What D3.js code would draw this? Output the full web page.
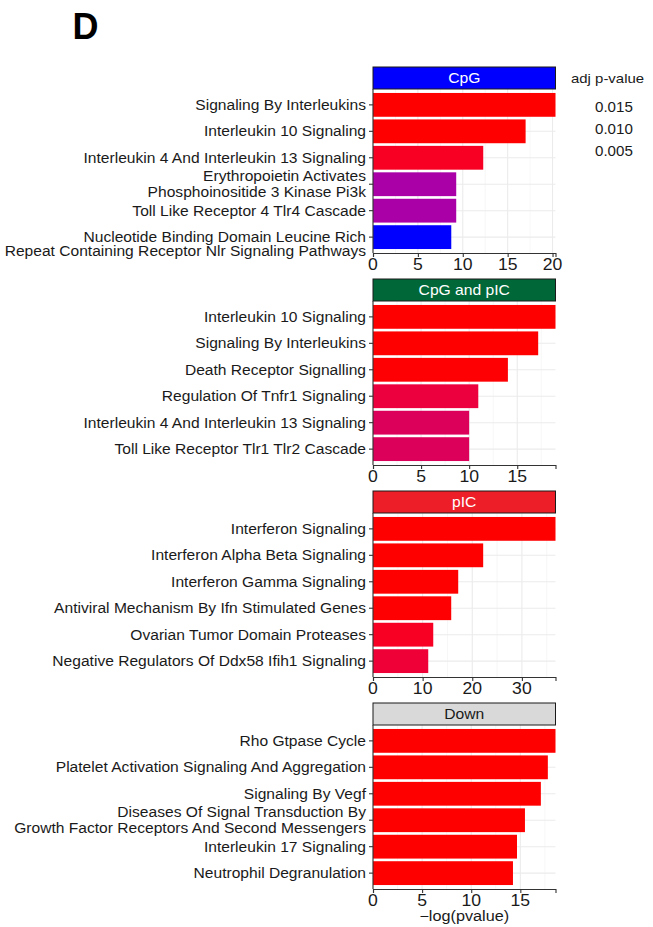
<!DOCTYPE html>
<html><head><meta charset="utf-8">
<script src="https://cdn.jsdelivr.net/npm/d3@7"></script>
<style>body{margin:0;background:#fff}svg{display:block}text{font-family:"Liberation Sans",Arial,sans-serif}</style>
</head><body><svg id="c" width="653" height="927"></svg>
<script>
// ---- data ----
const panelTitles = ["CpG", "CpG and pIC", "pIC", "Down"];
const stripFills = ["#0000FF", "#006838", "#ED1E28", "#D9D9D9"];
const stripTextColors = ["#FFFFFF", "#FFFFFF", "#FFFFFF", "#1A1A1A"];

const cpgTerms = ["Signaling By Interleukins", "Interleukin 10 Signaling", "Interleukin 4 And Interleukin 13 Signaling",
  "Erythropoietin Activates\nPhosphoinositide 3 Kinase Pi3k", "Toll Like Receptor 4 Tlr4 Cascade",
  "Nucleotide Binding Domain Leucine Rich\nRepeat Containing Receptor Nlr Signaling Pathways"];
const cpgValues = [20.33, 17.0, 12.28, 9.27, 9.27, 8.72];
const cpgAdjP = [0.00001, 0.00002, 0.0013, 0.0106, 0.0106, 0.0166];

const bothTerms = ["Interleukin 10 Signaling", "Signaling By Interleukins", "Death Receptor Signalling",
  "Regulation Of Tnfr1 Signaling", "Interleukin 4 And Interleukin 13 Signaling", "Toll Like Receptor Tlr1 Tlr2 Cascade"];
const bothValues = [18.98, 17.18, 14.03, 10.95, 10.0, 10.0];
const bothAdjP = [0.00001, 0.00002, 0.0001, 0.0029, 0.0050, 0.0050];

const picTerms = ["Interferon Signaling", "Interferon Alpha Beta Signaling", "Interferon Gamma Signaling",
  "Antiviral Mechanism By Ifn Stimulated Genes", "Ovarian Tumor Domain Proteases", "Negative Regulators Of Ddx58 Ifih1 Signaling"];
const picValues = [36.77, 22.2, 17.17, 15.76, 12.14, 11.13];
const picAdjP = [0.00001, 0.00001, 0.00002, 0.00005, 0.0013, 0.0024];

const downTerms = ["Rho Gtpase Cycle", "Platelet Activation Signaling And Aggregation", "Signaling By Vegf",
  "Diseases Of Signal Transduction By\nGrowth Factor Receptors And Second Messengers", "Interleukin 17 Signaling", "Neutrophil Degranulation"];
const downValues = [18.58, 17.8, 17.09, 15.47, 14.66, 14.25];
const downAdjP = [0.00001, 0.00001, 0.00001, 0.00001, 0.00001, 0.00001];

const legendTitle = "adj p-value";
const legendBreaks = [0.015, 0.010, 0.005];
const xTitle = "\u2212log(pvalue)";
const panelLetter = "D";

const panels = [
  {terms: cpgTerms, values: cpgValues, p: cpgAdjP},
  {terms: bothTerms, values: bothValues, p: bothAdjP},
  {terms: picTerms, values: picValues, p: picAdjP},
  {terms: downTerms, values: downValues, p: downAdjP}
];

// ---- layout ----
const svg = d3.select("#c");
const left = 373, right = 555.5;
const firstStrip = 67, panelStep = 212, stripH = 22, plotH = 164;
const SX = 1.13; // horizontal text stretch seen in the reference
// labels whose first line sits on the tick (as drawn in the reference) instead of being centred
const topAnchored = new Set([cpgTerms[5]]);

const allP = panels.flatMap(d => d.p);
const color = d3.scaleLinear().domain([0, d3.max(allP)]).range(["#FF0000", "#0000FF"]).interpolate(d3.interpolateLab);

function stretchedText(parent, x, y, size, anchor, sx, txt, fill, weight) {
  return parent.append("text").attr("transform", `translate(${x},${y}) scale(${sx},1)`)
    .attr("text-anchor", anchor).attr("font-size", size).attr("fill", fill || "#1A1A1A")
    .attr("font-weight", weight || "normal").text(txt);
}

stretchedText(svg, 72.5, 39, 36, "start", 1, panelLetter, "#000", "bold");

panels.forEach((pd, i) => {
  const sTop = firstStrip + i * panelStep;
  const pTop = sTop + stripH, pBot = pTop + plotH;
  const g = svg.append("g");
  const x = d3.scaleLinear().domain([0, d3.max(pd.values)]).range([left, right]);
  const y = d3.scaleBand().domain(pd.terms).range([pTop, pBot]).paddingInner(0.1).paddingOuter(0.15);
  const ticks = x.ticks(5);
  const step = ticks[1] - ticks[0];
  const minor = d3.range(step / 2, x.domain()[1], step);
  // grid
  g.selectAll(".mn").data(minor).join("line").attr("x1", d => x(d)).attr("x2", d => x(d))
    .attr("y1", pTop).attr("y2", pBot).attr("stroke", "#F2F2F2").attr("stroke-width", 0.6);
  g.selectAll(".mj").data(ticks).join("line").attr("x1", d => x(d)).attr("x2", d => x(d))
    .attr("y1", pTop).attr("y2", pBot).attr("stroke", "#EBEBEB").attr("stroke-width", 1.1);
  g.selectAll(".hg").data(pd.terms).join("line").attr("x1", left).attr("x2", right)
    .attr("y1", d => y(d) + y.bandwidth() / 2).attr("y2", d => y(d) + y.bandwidth() / 2)
    .attr("stroke", "#EBEBEB").attr("stroke-width", 1.1);
  // bars
  g.selectAll(".bar").data(pd.terms).join("rect")
    .attr("x", x(0)).attr("y", d => y(d)).attr("height", y.bandwidth())
    .attr("width", (d, j) => x(pd.values[j]) - x(0))
    .attr("fill", (d, j) => color(pd.p[j]));
  // strip
  g.append("rect").attr("x", left).attr("y", sTop).attr("width", right - left).attr("height", stripH)
    .attr("fill", stripFills[i]).attr("stroke", "#1A1A1A").attr("stroke-width", 1);
  stretchedText(g, (left + right) / 2, sTop + stripH / 2 + 5, 14.5, "middle", 1.08, panelTitles[i], stripTextColors[i]);
  // axes
  const xa = g.append("g").attr("transform", `translate(0,${pBot})`)
    .call(d3.axisBottom(x).tickValues(ticks).tickSize(4).tickFormat(""));
  xa.select(".domain").attr("stroke", "#333").attr("stroke-width", 1.1);
  xa.selectAll(".tick line").attr("stroke", "#333").attr("stroke-width", 1.1);
  ticks.forEach(t => stretchedText(g, x(t), pBot + 16.5, 16, "middle", 1.1, d3.format("d")(t)));
  const ya = g.append("g").attr("transform", `translate(${left},0)`)
    .call(d3.axisLeft(y).tickSize(4).tickFormat(""));
  ya.select(".domain").attr("stroke", "#333").attr("stroke-width", 1.1).attr("d", `M0,${pTop}V${pBot}`);
  ya.selectAll(".tick line").attr("stroke", "#333").attr("stroke-width", 1.1);
  // y labels (multi-line)
  pd.terms.forEach(t => {
    const lines = t.split("\n");
    const cy = y(t) + y.bandwidth() / 2;
    const top = topAnchored.has(t);
    const lh = top ? 14 : 16.3;
    const tx = g.append("text").attr("transform", `translate(${left - 7},${cy}) scale(${SX},1)`)
      .attr("text-anchor", "end").attr("font-size", 13.8).attr("fill", "#1A1A1A");
    lines.forEach((ln, k) => {
      const off = top ? 5.3 + k * lh : 4.9 + (k - (lines.length - 1) / 2) * lh;
      tx.append("tspan").attr("x", 0).attr("y", off).text(ln);
    });
  });
});

// x-axis title
stretchedText(svg, (left + right) / 2, 921, 14.5, "middle", 1.12, xTitle);

// legend
stretchedText(svg, 571, 83, 13, "start", 1.15, legendTitle);
legendBreaks.forEach((d, k) => stretchedText(svg, 595, 112 + k * 22, 14, "start", 1.08, d.toFixed(3)));
</script></body></html>
